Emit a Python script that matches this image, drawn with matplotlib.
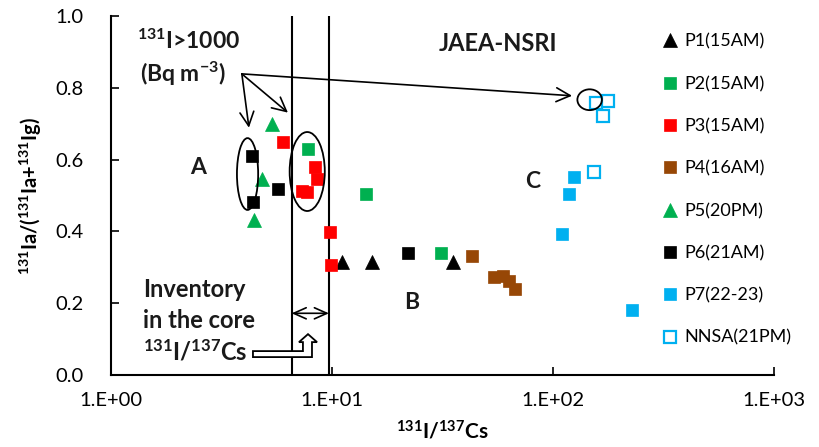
import matplotlib
matplotlib.use("Agg")
from matplotlib import pyplot as plt
from matplotlib.patches import Ellipse, Polygon

plt.rcParams['font.family'] = ['Lato', 'DejaVu Sans']
plt.rcParams['mathtext.default'] = 'regular'

# --- data: (131I/137Cs, 131Ia/(131Ia+131Ig)) ---
p1_x = [11.1, 15.2, 35.4]
p1_y = [0.315, 0.315, 0.315]
p2_x = [7.8, 14.2, 31.3]
p2_y = [0.631, 0.504, 0.340]
p3_x = [6.0, 8.4, 8.6, 7.3, 7.7, 9.8, 9.9]
p3_y = [0.648, 0.579, 0.545, 0.512, 0.509, 0.398, 0.307]
p4_x = [42.9, 54.1, 59.3, 63.0, 67.3]
p4_y = [0.333, 0.272, 0.275, 0.262, 0.239]
p5_x = [5.33, 4.84, 4.43]
p5_y = [0.699, 0.546, 0.432]
p6_x = [4.35, 5.68, 4.38, 22.0]
p6_y = [0.609, 0.517, 0.481, 0.340]
p7_x = [124, 118, 110, 227]
p7_y = [0.551, 0.504, 0.393, 0.181]
nnsa_x = [157, 178, 168, 154]
nnsa_y = [0.757, 0.764, 0.722, 0.565]

core_lo, core_hi = 6.57, 9.69   # inventory-in-the-core range

green = '#00B050'
red = '#FF0000'
brown = '#974706'
blue = '#00B0F0'

fig = plt.figure(figsize=(8.19, 4.47), dpi=100)
ax = fig.add_axes([0.1355, 0.161, 0.8095, 0.803])

ms_sq = 8.5
ms_tr = 9.5
series = [
    (p1_x, p1_y, '^', 'black', 'black', ms_tr, 'P1(15AM)'),
    (p2_x, p2_y, 's', green, green, ms_sq, 'P2(15AM)'),
    (p3_x, p3_y, 's', red, red, ms_sq, 'P3(15AM)'),
    (p4_x, p4_y, 's', brown, brown, ms_sq, 'P4(16AM)'),
    (p5_x, p5_y, '^', green, green, ms_tr, 'P5(20PM)'),
    (p6_x, p6_y, 's', 'black', 'black', ms_sq, 'P6(21AM)'),
    (p7_x, p7_y, 's', blue, blue, ms_sq, 'P7(22-23)'),
    (nnsa_x, nnsa_y, 's', 'white', blue, ms_sq, 'NNSA(21PM)'),
]
for xs, ys, mk, fc, ec, ms, lab in series:
    ax.plot(xs, ys, linestyle='none', marker=mk, markersize=ms,
            markerfacecolor=fc, markeredgecolor=ec,
            markeredgewidth=1.6 if fc == 'white' else 0.5, label=lab, zorder=3)

ax.set_xscale('log')
ax.set_xlim(1, 1000)
ax.set_ylim(0, 1.0)
ax.set_xticks([1, 10, 100, 1000])
ax.set_xticklabels(['1.E+00', '1.E+01', '1.E+02', '1.E+03'])
ax.minorticks_off()
ax.set_yticks([0, 0.2, 0.4, 0.6, 0.8, 1.0])
ax.set_yticklabels(['0.0', '0.2', '0.4', '0.6', '0.8', '1.0'])
ax.tick_params(axis='both', direction='in', length=6, width=1.2, labelsize=14.5, color='black')
ax.tick_params(axis='y', pad=20)
ax.tick_params(axis='x', pad=12)
for s in ['top', 'right']:
    ax.spines[s].set_visible(False)
for s in ['left', 'bottom']:
    ax.spines[s].set_linewidth(1.5)

ax.set_xlabel('$^{131}$I/$^{137}$Cs', fontsize=15, fontweight='bold', labelpad=8)
ax.set_ylabel('$^{131}$Ia/($^{131}$Ia+$^{131}$Ig)', fontsize=14.5, fontweight='bold', labelpad=8)

# vertical lines: core inventory range
ax.axvline(core_lo, color='black', lw=1.5, zorder=2)
ax.axvline(core_hi, color='black', lw=1.5, zorder=2)

# ellipses (axes fraction)
for cx, cy, w, h in [(0.206, 0.560, 0.032, 0.20), (0.296, 0.567, 0.053, 0.22), (0.722, 0.767, 0.037, 0.058)]:
    ax.add_patch(Ellipse((cx, cy), w, h, transform=ax.transAxes, fill=False,
                         edgecolor='black', lw=1.3, zorder=4))

# text labels
tb = dict(fontweight='bold', color='#1a1a1a')
ax.text(1.31, 0.93, '$^{131}$I>1000', fontsize=16.5, va='center', ha='left', **tb)
ax.text(1.35, 0.839, '(Bq m$^{-3}$)', fontsize=16.5, va='center', ha='left', **tb)
ax.text(56.4, 0.925, 'JAEA-NSRI', fontsize=17, va='center', ha='center', **tb)
ax.text(2.48, 0.578, 'A', fontsize=16.5, va='center', ha='center', **tb)
ax.text(23.0, 0.203, 'B', fontsize=16.5, va='center', ha='center', **tb)
ax.text(81.2, 0.539, 'C', fontsize=16.5, va='center', ha='center', **tb)
ax.text(1.40, 0.239, 'Inventory', fontsize=17, va='center', ha='left', **tb)
ax.text(1.40, 0.153, 'in the core', fontsize=17, va='center', ha='left', **tb)
ax.text(1.40, 0.064, '$^{131}$I/$^{137}$Cs', fontsize=17, va='center', ha='left', **tb)

# arrows from the >1000 Bq label
src = (3.91, 0.839)
for tip in [(4.21, 0.689), (6.32, 0.731), (122, 0.778)]:
    ax.annotate('', xy=tip, xytext=src,
                arrowprops=dict(arrowstyle='->,head_length=1.0,head_width=0.5', color='black', lw=1.2,
                                shrinkA=0, shrinkB=0), zorder=5)

# double arrow between the two vertical lines
ax.annotate('', xy=(core_hi, 0.172), xytext=(core_lo, 0.172),
            arrowprops=dict(arrowstyle='<->,head_length=0.9,head_width=0.4', color='black', lw=1.2,
                            shrinkA=0, shrinkB=0), zorder=5)

# hollow bent arrow
hollow = [(4.39, 0.0667), (7.39, 0.0667), (7.39, 0.0917), (7.09, 0.0917), (7.79, 0.1139),
          (8.56, 0.0917), (8.12, 0.0917), (8.12, 0.05), (4.39, 0.05)]
ax.add_patch(Polygon(hollow, closed=True, facecolor='white', edgecolor='black', lw=1.3, zorder=5))

leg = ax.legend(loc='upper left', bbox_to_anchor=(0.800, 0.941), bbox_transform=fig.transFigure,
                frameon=False, fontsize=13, handlelength=0.8, handletextpad=0.4,
                labelspacing=1.45, borderaxespad=0)

fig.savefig('out.png', dpi=100)
